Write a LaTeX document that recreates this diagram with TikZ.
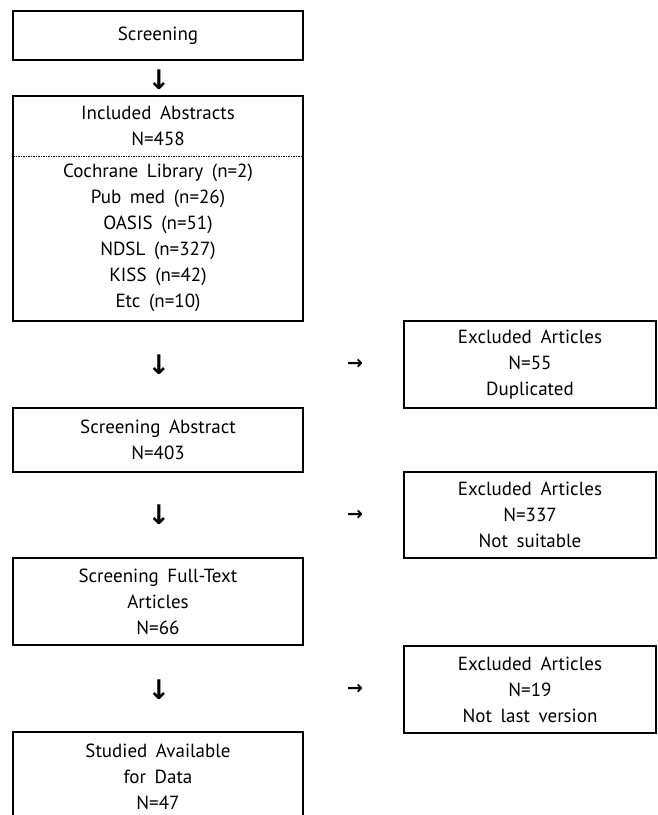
\documentclass[tikz,border=0pt]{standalone}
\usepackage{fontspec}
\setmainfont[WordSpace=1.7]{PT Sans}
\newfontfamily\arrowfont{DejaVu Sans}
\begin{document}
\begin{tikzpicture}[x=1pt,y=-1pt,
  txt/.style={align=center, inner sep=0pt, font=\fontsize{19}{26}\selectfont},
  lbox/.style={txt, draw, line width=2pt, minimum width=290pt},
  rbox/.style={txt, draw, line width=2pt, minimum width=252pt},
  darr/.style={inner sep=0pt, font=\arrowfont\bfseries\fontsize{27}{27}\selectfont},
  rarr/.style={inner sep=0pt, font=\arrowfont\bfseries\fontsize{19}{19}\selectfont}]
\useasboundingbox (0,0) rectangle (657,815);
% left column
\node[lbox, minimum height=49pt] (scr) at (158,35.5) {Screening};
\node[darr] (a0) at (159,80) {↓};
\node[lbox, minimum height=225pt] (inc) at (158,208.5) {};
\node[txt] (inchead) at (158,126) {Included Abstracts\\N=458};
\coordinate (dl) at (13,156);
\coordinate (dr) at (303,156);
\draw[line width=0.8pt, dash pattern=on 1.5pt off 1pt] (dl) -- (dr);
\node[txt] (inclist) at (158,238) {Cochrane Library (n=2)\\Pub med (n=26)\\OASIS (n=51)\\NDSL (n=327)\\KISS (n=42)\\Etc (n=10)};
\node[darr] (a1) at (159,364.5) {↓};
\node[rarr] (r1) at (355,364.5) {→};
\node[rbox, minimum height=87pt] (ex1) at (530,364.5) {Excluded Articles\\N=55\\Duplicated};
\node[lbox, minimum height=64pt] (sab) at (158,440) {Screening Abstract\\N=403};
\node[darr] (a2) at (159,515) {↓};
\node[rarr] (r2) at (355,515) {→};
\node[rbox, minimum height=86pt] (ex2) at (530,515) {Excluded Articles\\N=337\\Not suitable};
\node[lbox, minimum height=87pt] (sft) at (158,601.5) {Screening Full-Text\\Articles\\N=66};
\node[darr] (a3) at (159,689.5) {↓};
\node[rarr] (r3) at (355,689.5) {→};
\node[rbox, minimum height=87pt] (ex3) at (530,689.5) {Excluded Articles\\N=19\\Not last version};
\node[lbox, minimum height=90pt] (stu) at (158,777) {Studied Available\\for Data\\N=47};
\end{tikzpicture}
\end{document}
